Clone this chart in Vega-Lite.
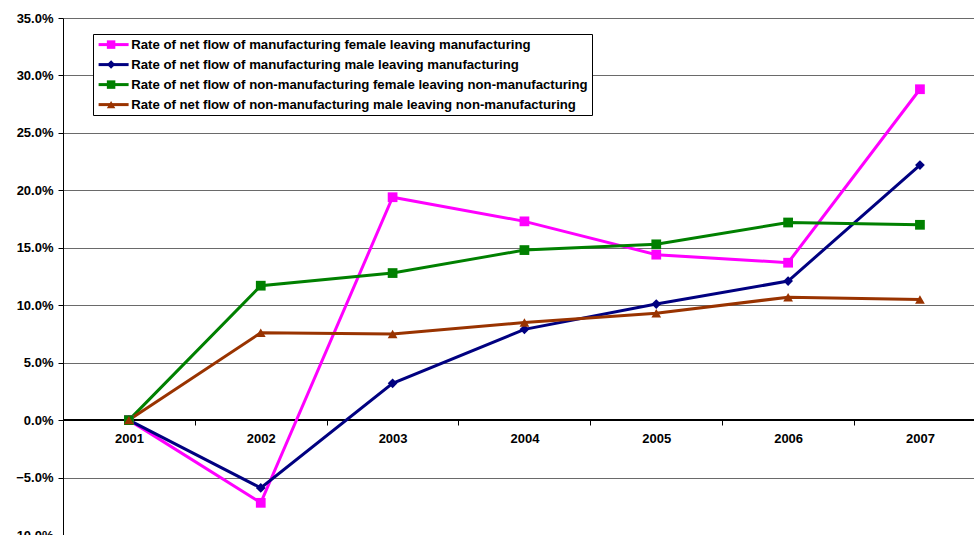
{
  "$schema": "https://vega.github.io/schema/vega-lite/v6.json",
  "width": 911,
  "height": 517,
  "autosize": "none",
  "padding": {"left": 63, "top": 18, "right": 0, "bottom": 0},
  "background": "white",
  "config": {
    "font": "Liberation Sans",
    "view": {"stroke": null}
  },
  "data": {
    "values": [
      {"year": 2001, "series": "Rate of net flow of manufacturing female leaving manufacturing", "value": 0.0},
      {"year": 2002, "series": "Rate of net flow of manufacturing female leaving manufacturing", "value": -0.072},
      {"year": 2003, "series": "Rate of net flow of manufacturing female leaving manufacturing", "value": 0.194},
      {"year": 2004, "series": "Rate of net flow of manufacturing female leaving manufacturing", "value": 0.173},
      {"year": 2005, "series": "Rate of net flow of manufacturing female leaving manufacturing", "value": 0.144},
      {"year": 2006, "series": "Rate of net flow of manufacturing female leaving manufacturing", "value": 0.137},
      {"year": 2007, "series": "Rate of net flow of manufacturing female leaving manufacturing", "value": 0.288},
      {"year": 2001, "series": "Rate of net flow of manufacturing male leaving manufacturing", "value": 0.0},
      {"year": 2002, "series": "Rate of net flow of manufacturing male leaving manufacturing", "value": -0.059},
      {"year": 2003, "series": "Rate of net flow of manufacturing male leaving manufacturing", "value": 0.032},
      {"year": 2004, "series": "Rate of net flow of manufacturing male leaving manufacturing", "value": 0.079},
      {"year": 2005, "series": "Rate of net flow of manufacturing male leaving manufacturing", "value": 0.101},
      {"year": 2006, "series": "Rate of net flow of manufacturing male leaving manufacturing", "value": 0.121},
      {"year": 2007, "series": "Rate of net flow of manufacturing male leaving manufacturing", "value": 0.222},
      {"year": 2001, "series": "Rate of net flow of non-manufacturing female leaving non-manufacturing", "value": 0.0},
      {"year": 2002, "series": "Rate of net flow of non-manufacturing female leaving non-manufacturing", "value": 0.117},
      {"year": 2003, "series": "Rate of net flow of non-manufacturing female leaving non-manufacturing", "value": 0.128},
      {"year": 2004, "series": "Rate of net flow of non-manufacturing female leaving non-manufacturing", "value": 0.148},
      {"year": 2005, "series": "Rate of net flow of non-manufacturing female leaving non-manufacturing", "value": 0.153},
      {"year": 2006, "series": "Rate of net flow of non-manufacturing female leaving non-manufacturing", "value": 0.172},
      {"year": 2007, "series": "Rate of net flow of non-manufacturing female leaving non-manufacturing", "value": 0.170},
      {"year": 2001, "series": "Rate of net flow of non-manufacturing male leaving non-manufacturing", "value": 0.0},
      {"year": 2002, "series": "Rate of net flow of non-manufacturing male leaving non-manufacturing", "value": 0.076},
      {"year": 2003, "series": "Rate of net flow of non-manufacturing male leaving non-manufacturing", "value": 0.075},
      {"year": 2004, "series": "Rate of net flow of non-manufacturing male leaving non-manufacturing", "value": 0.085},
      {"year": 2005, "series": "Rate of net flow of non-manufacturing male leaving non-manufacturing", "value": 0.093},
      {"year": 2006, "series": "Rate of net flow of non-manufacturing male leaving non-manufacturing", "value": 0.107},
      {"year": 2007, "series": "Rate of net flow of non-manufacturing male leaving non-manufacturing", "value": 0.105}
    ]
  },
  "encoding": {
    "x": {
      "field": "year",
      "type": "quantitative",
      "scale": {"domain": [2000.5, 2007.41], "nice": false, "zero": false},
      "axis": {
        "title": null,
        "values": [2001, 2002, 2003, 2004, 2005, 2006, 2007],
        "format": "d",
        "grid": false,
        "domain": false,
        "offset": -115,
        "tickOffset": 65.9,
        "labelOffset": -65.9,
        "tickSize": 5,
        "tickColor": "black",
        "labelFont": "Liberation Sans",
        "labelFontWeight": "bold",
        "labelFontSize": 13,
        "labelColor": "black",
        "labelPadding": 7
      }
    },
    "y": {
      "field": "value",
      "type": "quantitative",
      "scale": {"domain": [-0.1, 0.35], "nice": false, "zero": false},
      "axis": {
        "title": null,
        "values": [-0.1, -0.05, 0, 0.05, 0.1, 0.15, 0.2, 0.25, 0.3, 0.35],
        "format": ".1%",
        "grid": true,
        "gridColor": "#6a6a6a",
        "gridWidth": 1,
        "domainColor": "black",
        "domainWidth": 1,
        "tickColor": "black",
        "tickSize": 5,
        "labelFont": "Liberation Sans",
        "labelFontWeight": "bold",
        "labelFontSize": 13,
        "labelColor": "black",
        "labelPadding": 5
      }
    }
  },
  "layer": [
    {
      "mark": {"type": "rule", "color": "black", "strokeWidth": 1},
      "encoding": {
        "y": {"datum": 0},
        "x": {"value": 0},
        "x2": {"value": 911}
      }
    },
    {
      "mark": {"type": "line", "strokeWidth": 3},
      "encoding": {
        "color": {
          "field": "series",
          "type": "nominal",
          "scale": {
            "range": ["#FF00FF", "#000080", "#008000", "#993300"]
          },
          "legend": {
            "title": null,
            "orient": "none",
            "legendX": 30,
            "legendY": 16,
            "zindex": 1,
            "strokeColor": "black",
            "fillColor": "white",
            "padding": 4,
            "symbolType": "M-1,0H5",
            "symbolSize": 100,
            "symbolStrokeWidth": 3,
            "labelOffset": 21,
            "labelFont": "Liberation Sans",
            "labelFontWeight": "bold",
            "labelFontSize": 13.2,
            "labelColor": "black",
            "labelLimit": 600,
            "rowPadding": 6
          }
        }
      }
    },
    {
      "mark": {"type": "point", "filled": true, "size": 95, "opacity": 1},
      "encoding": {
        "fill": {
          "field": "series",
          "type": "nominal",
          "scale": {
            "domain": [
              "Rate of net flow of manufacturing female leaving manufacturing",
              "Rate of net flow of manufacturing male leaving manufacturing",
              "Rate of net flow of non-manufacturing female leaving non-manufacturing",
              "Rate of net flow of non-manufacturing male leaving non-manufacturing"
            ],
            "range": ["#FF00FF", "#000080", "#008000", "#993300"]
          },
          "legend": {
            "title": null,
            "orient": "none",
            "legendX": 37.5,
            "legendY": 16,
            "zindex": 2,
            "strokeColor": null,
            "fillColor": null,
            "padding": 4,
            "symbolSize": 72,
            "symbolStrokeWidth": 0,
            "labelOffset": 3,
            "labelExpr": "''",
            "labelFont": "Liberation Sans",
            "labelFontWeight": "bold",
            "labelFontSize": 13.2,
            "labelColor": "black",
            "labelLimit": 600,
            "rowPadding": 6
          }
        },
        "shape": {
          "field": "series",
          "type": "nominal",
          "scale": {
            "domain": [
              "Rate of net flow of manufacturing female leaving manufacturing",
              "Rate of net flow of manufacturing male leaving manufacturing",
              "Rate of net flow of non-manufacturing female leaving non-manufacturing",
              "Rate of net flow of non-manufacturing male leaving non-manufacturing"
            ],
            "range": ["square", "diamond", "square", "triangle-up"]
          },
          "legend": {
            "title": null,
            "orient": "none",
            "legendX": 37.5,
            "legendY": 16,
            "zindex": 2,
            "strokeColor": null,
            "fillColor": null,
            "padding": 4,
            "symbolSize": 72,
            "symbolStrokeWidth": 0,
            "labelOffset": 3,
            "labelExpr": "''",
            "labelFont": "Liberation Sans",
            "labelFontWeight": "bold",
            "labelFontSize": 13.2,
            "labelColor": "black",
            "labelLimit": 600,
            "rowPadding": 6
          }
        }
      }
    }
  ]
}
